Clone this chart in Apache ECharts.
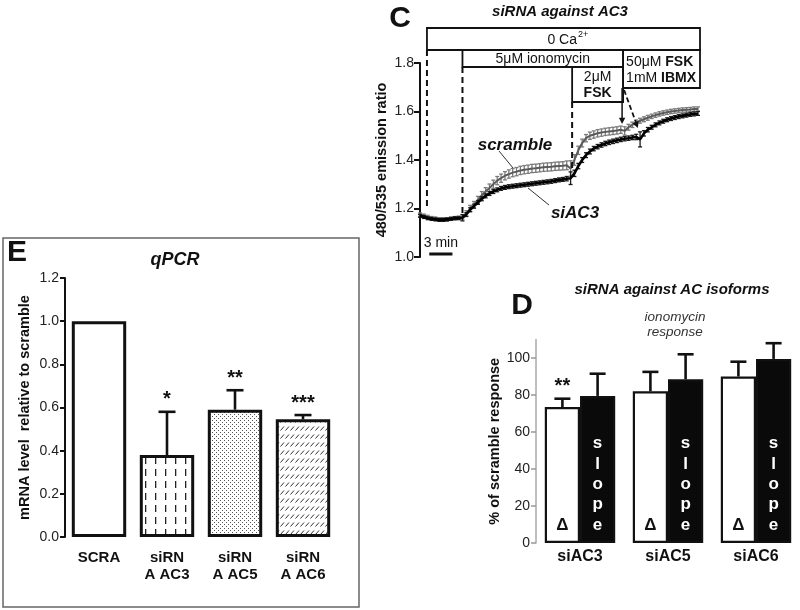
<!DOCTYPE html>
<html><head><meta charset="utf-8">
<script src="https://cdn.jsdelivr.net/npm/echarts@6/dist/echarts.min.js"></script>
<style>html,body{margin:0;padding:0;background:#fff}#c{width:800px;height:610px}</style>
</head><body><div id="c"></div>
<script>
// ---------- Panel C : time course (minutes) ----------
const traceTimes = [0,0.5,1,1.5,2,2.5,3,3.5,4,4.5,5,5.5,6,6.5,7,7.5,8,8.5,9,9.5,10,10.5,11,11.5,12,12.5,13,13.5,14,14.5,15,15.5,16,16.5,17,17.5,18,18.5,19,19.5,20,20.5,21,21.5,22,22.5,23,23.5,24,24.5,25,25.5,26,26.5,27,27.5,28,28.5,29,29.5,30,30.5,31,31.5,32,32.5,33,33.5,34,34.5,35,35.5,36];
const scrambleMean = [1.175,1.170,1.165,1.160,1.158,1.155,1.155,1.155,1.158,1.160,1.162,1.165,
1.180,1.200,1.215,1.235,1.255,1.270,1.285,1.300,1.315,1.325,1.335,1.342,
1.348,1.352,1.357,1.360,1.362,1.365,1.366,1.368,1.370,1.371,1.372,1.374,
1.375,1.376,1.378,1.365,1.400,1.440,1.470,1.490,1.500,1.505,1.510,1.513,
1.516,1.518,1.520,1.522,1.525,1.520,1.535,1.545,1.555,1.562,1.568,1.574,
1.580,1.585,1.590,1.594,1.597,1.600,1.602,1.604,1.606,1.607,1.608,1.610,
1.610];
const scrambleErr = [0.007,0.007,0.007,0.007,0.007,0.007,0.007,0.007,0.007,0.007,0.007,0.009,
0.011,0.013,0.014,0.015,0.015,0.016,0.016,0.017,0.017,0.017,0.017,0.017,
0.017,0.017,0.017,0.017,0.017,0.017,0.017,0.017,0.017,0.017,0.017,0.017,
0.017,0.017,0.018,0.032,0.022,0.017,0.016,0.015,0.015,0.015,0.015,0.015,
0.015,0.015,0.015,0.015,0.015,0.017,0.012,0.011,0.010,0.010,0.010,0.010,
0.009,0.009,0.009,0.009,0.009,0.009,0.009,0.009,0.009,0.009,0.009,0.009,
0.009];
const siac3Mean = [1.170,1.165,1.160,1.157,1.155,1.153,1.153,1.155,1.157,1.160,1.160,1.162,
1.175,1.195,1.210,1.225,1.240,1.252,1.262,1.270,1.277,1.283,1.287,1.290,
1.292,1.294,1.296,1.298,1.300,1.302,1.304,1.306,1.308,1.310,1.312,1.315,
1.318,1.320,1.323,1.325,1.345,1.375,1.400,1.420,1.435,1.447,1.455,1.462,
1.468,1.473,1.477,1.481,1.485,1.488,1.490,1.493,1.495,1.485,1.510,1.525,
1.535,1.545,1.553,1.560,1.566,1.571,1.575,1.579,1.582,1.585,1.588,1.590,
1.592];
const siac3Err = [0.006,0.006,0.006,0.006,0.006,0.006,0.006,0.006,0.006,0.006,0.006,0.013,
0.008,0.008,0.008,0.008,0.008,0.008,0.008,0.008,0.008,0.008,0.008,0.008,
0.008,0.008,0.008,0.008,0.008,0.008,0.008,0.008,0.008,0.008,0.008,0.008,
0.008,0.008,0.009,0.026,0.013,0.011,0.010,0.010,0.010,0.009,0.009,0.009,
0.009,0.009,0.009,0.009,0.009,0.009,0.009,0.009,0.011,0.031,0.011,0.009,
0.008,0.008,0.008,0.008,0.008,0.008,0.008,0.008,0.008,0.008,0.008,0.008,
0.008];
// event times (min): 0 Ca2+, ionomycin, 2uM FSK, 50uM FSK (scramble arrow), siAC3 arrow
const eventTimes = [0.9, 5.5, 19.7, 26.3, 28.2];
const cTicks = [1.0, 1.2, 1.4, 1.6, 1.8];

// ---------- Panel D ----------
const dCategories = ['siAC3', 'siAC5', 'siAC6'];
const dDelta = [73.5, 82, 90];
const dDeltaErr = [4.5, 10.5, 8];
const dSlope = [79.5, 88.5, 99.5];
const dSlopeErr = [12, 13.5, 8.5];
const dStars = ['**', '', ''];
const dTicks = [0, 20, 40, 60, 80, 100];

// ---------- Panel E ----------
const eCategories = ['SCRA', 'siRN\nA AC3', 'siRN\nA AC5', 'siRN\nA AC6'];
const eValues = [1.0, 0.38, 0.59, 0.545];
const eErr = [0, 0.20, 0.09, 0.02];
const eStars = ['', '*', '**', '***'];

const FF = '"Liberation Sans", Arial, Helvetica, sans-serif';
const chart = echarts.init(document.getElementById('c'), null, {renderer: 'canvas'});

function makePattern(kind) {
  const c = document.createElement('canvas');
  const ctx = c.getContext('2d');
  if (kind === 'vdash') {
    c.width = 10; c.height = 12;
    ctx.fillStyle = '#fff'; ctx.fillRect(0, 0, 10, 12);
    ctx.fillStyle = '#222'; ctx.fillRect(5, 1, 1.3, 7);
  } else if (kind === 'dots') {
    c.width = 4; c.height = 4;
    ctx.fillStyle = '#fff'; ctx.fillRect(0, 0, 4, 4);
    ctx.fillStyle = '#555'; ctx.fillRect(0, 0, 1, 1); ctx.fillRect(2, 2, 1, 1);
  } else if (kind === 'hatch') {
    c.width = 5; c.height = 8;
    ctx.fillStyle = '#fff'; ctx.fillRect(0, 0, 5, 8);
    ctx.strokeStyle = '#333'; ctx.lineWidth = 1;
    ctx.beginPath(); ctx.moveTo(0.5, 6.5); ctx.lineTo(4, 2.5); ctx.stroke();
  } else {
    return '#fff';
  }
  return {image: c, repeat: 'repeat'};
}
const ePatterns = ['white', 'vdash', 'dots', 'hatch'];

function traceErr(color, lw) {
  return function (params, api) {
    const t = api.value(0), m = api.value(1), e = api.value(2);
    const lo = api.coord([t, m - e]), hi = api.coord([t, m + e]);
    const cw = 2;
    const st = {stroke: color, lineWidth: lw};
    return {type: 'group', children: [
      {type: 'line', shape: {x1: lo[0], y1: lo[1], x2: hi[0], y2: hi[1]}, style: st},
      {type: 'line', shape: {x1: hi[0] - cw, y1: hi[1], x2: hi[0] + cw, y2: hi[1]}, style: st},
      {type: 'line', shape: {x1: lo[0] - cw, y1: lo[1], x2: lo[0] + cw, y2: lo[1]}, style: st}
    ]};
  };
}

function barErr(gapFrac, nBars, starArr, capW) {
  return function (params, api) {
    const ci = api.value(0), v = api.value(1), e = api.value(2), side = api.value(3);
    const band = api.size([1, 0])[0];
    const bw = band * (1 - gapFrac) / nBars;
    const base = api.coord([ci, v]);
    const top = api.coord([ci, v + e]);
    const x = base[0] - band * (1 - gapFrac) / 2 + bw * (side + 0.5);
    const children = [];
    if (e > 0) {
      const st = {stroke: '#111', lineWidth: 2.6};
      children.push({type: 'line', shape: {x1: x, y1: base[1], x2: x, y2: top[1]}, style: st});
      children.push({type: 'line', shape: {x1: x - capW / 2, y1: top[1], x2: x + capW / 2, y2: top[1]}, style: st});
    }
    const star = starArr ? starArr[ci] : '';
    if (star && side === 0) {
      children.push({type: 'text', style: {text: star, x: x, y: top[1] - 2, align: 'center', verticalAlign: 'bottom',
        fontSize: 20, fontWeight: 'bold', fontFamily: FF, fill: '#111'}});
    }
    return {type: 'group', children: children};
  };
}

const option = {
  animation: false,
  backgroundColor: '#fff',
  textStyle: {fontFamily: FF},
  grid: [
    {left: 420, top: 63, width: 278, height: 194, containLabel: false, outerBoundsMode: 'none'},
    {left: 536, top: 339.5, width: 264, height: 203.5, containLabel: false, outerBoundsMode: 'none'},
    {left: 65, top: 278, width: 272, height: 259, containLabel: false, outerBoundsMode: 'none'}
  ],
  xAxis: [
    {gridIndex: 0, type: 'value', min: 0, max: 36, show: false},
    {gridIndex: 1, type: 'category', data: dCategories,
      axisLine: {show: false}, axisTick: {show: false},
      axisLabel: {margin: 6, fontSize: 16, fontWeight: 'bold', color: '#111', fontFamily: FF}},
    {gridIndex: 2, type: 'category', data: eCategories,
      axisLine: {show: false}, axisTick: {show: false},
      axisLabel: {margin: 12, fontSize: 15, fontWeight: 'bold', color: '#111', lineHeight: 17, fontFamily: FF}}
  ],
  yAxis: [
    {gridIndex: 0, type: 'value', min: 1.0, max: 1.8, interval: 0.2,
      name: '480/535 emission ratio', nameLocation: 'middle', nameGap: 31,
      nameTextStyle: {fontSize: 14.5, fontWeight: 'bold', color: '#111', fontFamily: FF},
      axisLine: {show: true, lineStyle: {color: '#111', width: 2}},
      axisTick: {show: true, length: 6, lineStyle: {color: '#111', width: 2}},
      axisLabel: {fontSize: 14, color: '#222', margin: 6, formatter: v => v.toFixed(1)},
      splitLine: {show: false}},
    {gridIndex: 1, type: 'value', min: 0, max: 110,
      name: '% of scramble response', nameLocation: 'middle', nameGap: 31,
      nameTextStyle: {fontSize: 14.5, fontWeight: 'bold', color: '#111', fontFamily: FF},
      axisLine: {show: true, lineStyle: {color: '#aaa', width: 1.5}},
      axisTick: {show: true, length: 5, customValues: dTicks, lineStyle: {color: '#999', width: 1.5}},
      axisLabel: {fontSize: 14, color: '#222', margin: 6, customValues: dTicks},
      splitLine: {show: false}},
    {gridIndex: 2, type: 'value', min: 0, max: 1.2, interval: 0.2,
      name: 'mRNA level  relative to scramble', nameLocation: 'middle', nameGap: 33,
      nameTextStyle: {fontSize: 14.5, fontWeight: 'bold', color: '#111', fontFamily: FF},
      axisLine: {show: true, lineStyle: {color: '#111', width: 2}},
      axisTick: {show: true, length: 5, lineStyle: {color: '#111', width: 2}},
      axisLabel: {fontSize: 14, color: '#222', margin: 6, formatter: v => v.toFixed(1)},
      splitLine: {show: false}}
  ],
  series: [
    {type: 'custom', xAxisIndex: 0, yAxisIndex: 0, z: 2,
      data: traceTimes.map((t, i) => [t, scrambleMean[i], scrambleErr[i]]),
      renderItem: traceErr('#7a7a7a', 1.3)},
    {type: 'line', xAxisIndex: 0, yAxisIndex: 0, z: 3, showSymbol: false,
      data: traceTimes.map((t, i) => [t, scrambleMean[i]]),
      lineStyle: {color: '#5a5a5a', width: 2}},
    {type: 'custom', xAxisIndex: 0, yAxisIndex: 0, z: 4,
      data: traceTimes.map((t, i) => [t, siac3Mean[i], siac3Err[i]]),
      renderItem: traceErr('#1a1a1a', 1.3)},
    {type: 'line', xAxisIndex: 0, yAxisIndex: 0, z: 5, showSymbol: false,
      data: traceTimes.map((t, i) => [t, siac3Mean[i]]),
      lineStyle: {color: '#000', width: 2.6}},
    {type: 'bar', xAxisIndex: 1, yAxisIndex: 1, data: dDelta, barGap: '0%', barCategoryGap: '20%',
      itemStyle: {color: '#fff', borderColor: '#111', borderWidth: 2.2},
      label: {show: true, position: 'insideBottom', distance: 9, formatter: 'Δ', fontSize: 17, fontWeight: 'bold', color: '#111', fontFamily: FF}},
    {type: 'bar', xAxisIndex: 1, yAxisIndex: 1, data: dSlope, barGap: '0%', barCategoryGap: '20%',
      itemStyle: {color: '#0a0a0a', borderColor: '#111', borderWidth: 2.2},
      label: {show: true, position: 'insideBottom', distance: 8, formatter: 's\nl\no\np\ne', fontSize: 17, lineHeight: 20.3, fontWeight: 'bold', color: '#fff', fontFamily: FF}},
    {type: 'custom', xAxisIndex: 1, yAxisIndex: 1, z: 5,
      data: dCategories.map((c, i) => [i, dDelta[i], dDeltaErr[i], 0]).concat(dCategories.map((c, i) => [i, dSlope[i], dSlopeErr[i], 1])),
      renderItem: barErr(0.2, 2, dStars, 16)},
    {type: 'bar', xAxisIndex: 2, yAxisIndex: 2, barCategoryGap: '20%',
      data: eValues.map((v, i) => ({value: v, itemStyle: {color: makePattern(ePatterns[i])}})),
      itemStyle: {borderColor: '#111', borderWidth: 3}},
    {type: 'custom', xAxisIndex: 2, yAxisIndex: 2, z: 5,
      data: eValues.map((v, i) => [i, v, eErr[i], 0]),
      renderItem: barErr(0.2, 1, eStars, 17)}
  ]
};
chart.setOption(option);

// ---------- annotations ----------
const px = t => chart.convertToPixel({gridIndex: 0}, [t, 1.0])[0];
const x0 = px(eventTimes[0]), x1 = px(eventTimes[1]), x2 = px(eventTimes[2]), x3 = px(eventTimes[3]), x4 = px(eventTimes[4]);
const xEnd = px(36) + 2;
const scaleBar = [1.2, 4.2];
const xs0 = px(scaleBar[0]), xs1 = px(scaleBar[1]);

function txt(text, x, y, o) {
  o = o || {};
  return {type: 'text', z: 100, style: Object.assign({text: text, x: x, y: y, align: 'center', verticalAlign: 'middle',
    fontFamily: FF, fontSize: 14, fill: '#111'}, o)};
}
function rect(xa, ya, xb, yb, o) {
  return {type: 'rect', z: 90, shape: {x: xa, y: ya, width: xb - xa, height: yb - ya},
    style: Object.assign({fill: null, stroke: '#111', lineWidth: 1.8}, o || {})};
}
function ln(xa, ya, xb, yb, o) {
  return {type: 'line', z: 90, shape: {x1: xa, y1: ya, x2: xb, y2: yb},
    style: Object.assign({stroke: '#111', lineWidth: 2}, o || {})};
}
function arrowHead(xb, yb, ang, size) {
  const a1 = ang + Math.PI * 0.85, a2 = ang - Math.PI * 0.85;
  return {type: 'polygon', z: 91, shape: {points: [[xb, yb],
    [xb + size * Math.cos(a1), yb + size * Math.sin(a1)],
    [xb + size * Math.cos(a2), yb + size * Math.sin(a2)]]}, style: {fill: '#111'}};
}
const dash = {lineDash: [6, 4], lineWidth: 2};
const angDash = Math.atan2(128 - 90, x4 - (x3 + 1));

const graphics = [
  // panel letters & titles
  txt('C', 400, 19, {fontSize: 30, fontWeight: 'bold'}),
  txt('siRNA against AC3', 560, 12, {fontSize: 15, fontWeight: 'bold', fontStyle: 'italic'}),
  txt('D', 522, 306, {fontSize: 30, fontWeight: 'bold'}),
  txt('siRNA against AC isoforms', 672, 290, {fontSize: 15, fontWeight: 'bold', fontStyle: 'italic'}),
  txt('ionomycin', 675, 317, {fontSize: 13.5, fontStyle: 'italic', fill: '#333'}),
  txt('response', 675, 332, {fontSize: 13.5, fontStyle: 'italic', fill: '#333'}),
  txt('E', 17, 253, {fontSize: 30, fontWeight: 'bold'}),
  txt('qPCR', 175, 260, {fontSize: 18, fontWeight: 'bold', fontStyle: 'italic'}),
  // E frame
  rect(3, 238, 359, 607, {stroke: '#666', lineWidth: 1.5}),
  // C boxes
  rect(x0, 28, xEnd, 50),
  rect(x1, 50, x3, 67),
  rect(x2, 67, x3, 102),
  rect(x3, 50, xEnd, 88),
  txt('0 Ca', 577, 40, {align: 'right', fontSize: 14}),
  txt('2+', 578, 35, {align: 'left', fontSize: 9}),
  txt('5μM ionomycin', (x1 + x3) / 2, 59, {fontSize: 14}),
  txt('2μM', (x2 + x3) / 2, 77, {fontSize: 14}),
  txt('FSK', (x2 + x3) / 2, 93, {fontSize: 14, fontWeight: 'bold'}),
  {type: 'text', z: 100, style: {text: '50μM {b|FSK}', x: x3 + 3, y: 62, align: 'left', verticalAlign: 'middle',
    fontFamily: FF, fontSize: 14, fill: '#111', rich: {b: {fontWeight: 'bold', fontSize: 14, fontFamily: FF}}}},
  {type: 'text', z: 100, style: {text: '1mM {b|IBMX}', x: x3 + 3, y: 78, align: 'left', verticalAlign: 'middle',
    fontFamily: FF, fontSize: 14, fill: '#111', rich: {b: {fontWeight: 'bold', fontSize: 14, fontFamily: FF}}}},
  // dashed event lines
  ln(x0, 50, x0, 208, dash),
  ln(x1, 67, x1, 214, dash),
  ln(x2, 102, x2, 170, dash),
  // arrows
  ln(x3 - 1, 88, x3 - 1, 118, {lineWidth: 1.5}),
  arrowHead(x3 - 1, 124, Math.PI / 2, 7),
  ln(x3 + 1, 90, x4 - 2, 122, {lineDash: [5, 3], lineWidth: 1.8}),
  arrowHead(x4, 128, angDash, 7),
  // trace labels
  txt('scramble', 515, 145, {fontSize: 17, fontWeight: 'bold', fontStyle: 'italic'}),
  ln(499, 151, 513, 168, {lineWidth: 1, stroke: '#333'}),
  txt('siAC3', 575, 213, {fontSize: 17, fontWeight: 'bold', fontStyle: 'italic'}),
  ln(528, 188, 549, 205, {lineWidth: 1, stroke: '#333'}),
  // scale bar
  txt('3 min', (xs0 + xs1) / 2, 243, {fontSize: 14}),
  ln(xs0, 254, xs1, 254, {lineWidth: 3})
];
chart.setOption({graphic: graphics});
</script>
</body></html>
